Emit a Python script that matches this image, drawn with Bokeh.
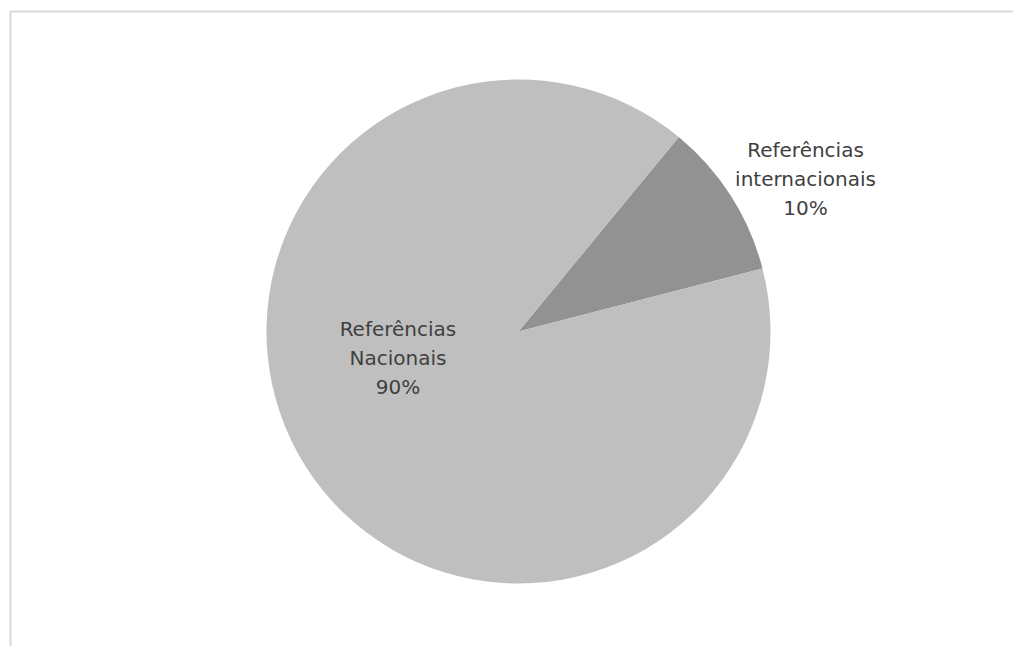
import math
from bokeh.plotting import figure
from bokeh.models import Range1d, ColumnDataSource
from bokeh.core.properties import value
from bokeh.embed import file_html
from bokeh.resources import INLINE

# data
categories = ["Referências internacionais", "Referências Nacionais"]
label_lines = [["Referências", "internacionais"], ["Referências", "Nacionais"]]
shares = [10, 90]
colors = ["#929292", "#BFBFBF"]

W, H = 1013, 646
cx, cy, R = 518, H - 331, 252
start_deg = 50.5  # math-angle where first slice begins (clockwise drawing)

p = figure(width=W, height=H, output_backend="svg", toolbar_location=None,
           x_range=Range1d(0, W), y_range=Range1d(0, H), min_border=0)
p.axis.visible = False
p.grid.visible = False
p.outline_line_color = None
p.background_fill_color = "white"

# chart area border (top & left visible)
p.quad(left=[10], right=[W + 50], top=[H - 11], bottom=[-50],
       fill_color=None, line_color="#D9D9D9", line_width=2)

total = sum(shares)
starts, ends, mids = [], [], []
a = math.radians(start_deg)
for s in shares:
    span = 2 * math.pi * s / total
    starts.append(a - span)
    ends.append(a)
    mids.append(a - span / 2)
    a -= span

src = ColumnDataSource(dict(start=starts, end=ends, color=colors))
p.wedge(x=cx, y=cy, radius=R, start_angle="start", end_angle="end",
        fill_color="color", line_color=None, source=src)

# label placement (layout): radial factor and angular shift per slice
label_r = [1.29, 0.49]
label_shift = [math.radians(-4.5), math.radians(-20)]
for i in range(len(shares)):
    ang = mids[i] + label_shift[i]
    lx = cx + R * label_r[i] * math.cos(ang)
    ly = cy + R * label_r[i] * math.sin(ang)
    lines = label_lines[i] + [f"{shares[i]}%"]
    n = len(lines)
    for j, t in enumerate(lines):
        yy = ly + (n - 1) / 2 * 29 - j * 29
        p.text(x=[lx], y=[yy], text=[t], text_align="center", text_baseline="middle",
               text_font=value("DejaVu Sans"), text_font_size="20px", text_color="#3F3F3F")

open("out.html", "w").write(file_html(p, INLINE))
